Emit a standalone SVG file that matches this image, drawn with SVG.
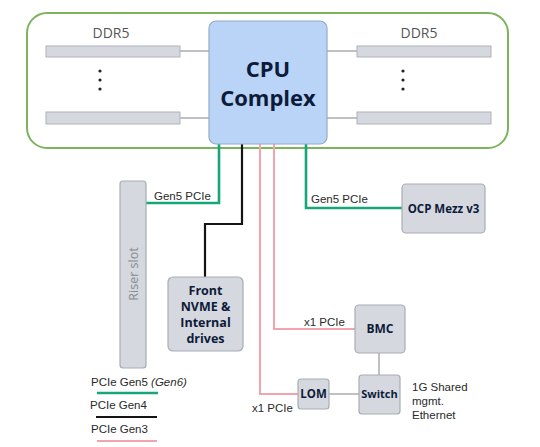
<svg xmlns="http://www.w3.org/2000/svg" width="540" height="447" viewBox="0 0 540 447">
<style>
.box{fill:#d5d8de;stroke:#a8acb3;stroke-width:1.2}
.bar{fill:#d5d8de;stroke:#aeb2b8;stroke-width:1}
.gl{stroke:#9a9ea5;stroke-width:1.3;fill:none}
.g5{stroke:#17a67a;stroke-width:2.6;fill:none}
.g4{stroke:#141414;stroke-width:2.2;fill:none}
.g3{stroke:#f2a3ab;stroke-width:2;fill:none}
.bt{font-family:"Open Sans","Liberation Sans",sans-serif;font-weight:bold;fill:#0d1b3a;text-anchor:middle}
.lt{font-family:"Liberation Sans",Arial,sans-serif;font-size:11.5px;fill:#2a2a2a}
.dt{font-family:"Open Sans","Liberation Sans",sans-serif;font-size:14px;fill:#555;text-anchor:middle}
</style>
<rect width="540" height="447" fill="#ffffff"/>
<g id="board">
<rect x="27" y="13" width="481" height="135" rx="20" fill="none" stroke="#7cb45e" stroke-width="2"/>
</g>
<g id="connectors">
<line class="gl" x1="180" y1="51" x2="209" y2="51"/>
<line class="gl" x1="180" y1="118" x2="209" y2="118"/>
<line class="gl" x1="327" y1="51" x2="357" y2="51"/>
<line class="gl" x1="327" y1="118" x2="357" y2="118"/>
<polyline class="g5" points="219,144 219,203 146,203"/>
<polyline class="g5" points="306,144 306,208 402,208"/>
<polyline class="g4" points="242,144 242,224 205,224 205,277"/>
<polyline class="g3" points="260,144 260,394 298,394"/>
<polyline class="g3" points="274,144 274,329 355,329"/>
<line class="gl" x1="379" y1="353" x2="379" y2="375"/>
<line class="gl" x1="329" y1="394" x2="359" y2="394"/>
<text class="lt" x="154" y="200">Gen5 PCIe</text>
<text class="lt" x="311" y="203">Gen5 PCIe</text>
<text class="lt" x="304" y="326">x1 PCIe</text>
<text class="lt" x="252" y="412">x1 PCIe</text>
</g>
<g id="cpu">
<rect x="209" y="21" width="118" height="123" rx="7" fill="#b9d4f6" stroke="#95abc8" stroke-width="1.2"/>
<text class="bt" x="268" y="77" font-size="22">CPU</text>
<text class="bt" x="268" y="106" font-size="22">Complex</text>
</g>
<g id="ddr5-left">
<text class="dt" x="111" y="38">DDR5</text>
<rect class="bar" x="46" y="46" width="134" height="11"/>
<rect class="bar" x="46" y="112" width="134" height="12"/>
<circle cx="100" cy="71" r="1.6" fill="#222"/>
<circle cx="100" cy="80" r="1.6" fill="#222"/>
<circle cx="100" cy="89" r="1.6" fill="#222"/>
</g>
<g id="ddr5-right">
<text class="dt" x="419" y="38">DDR5</text>
<rect class="bar" x="357" y="46" width="134" height="11"/>
<rect class="bar" x="357" y="112" width="134" height="12"/>
<circle cx="403" cy="71" r="1.6" fill="#222"/>
<circle cx="403" cy="80" r="1.6" fill="#222"/>
<circle cx="403" cy="89" r="1.6" fill="#222"/>
</g>
<g id="riser">
<rect class="box" x="120" y="181" width="26" height="187" rx="3"/>
<text x="137.5" y="274" transform="rotate(-90 137.5 274)" text-anchor="middle" font-family="Open Sans,Liberation Sans,sans-serif" font-size="12.5" fill="#868a91">Riser slot</text>
</g>
<g id="front">
<rect class="box" x="168" y="277" width="75" height="74" rx="5"/>
<text class="bt" x="205.5" y="295" font-size="12.5">Front</text>
<text class="bt" x="205.5" y="311" font-size="12.5">NVME &amp;</text>
<text class="bt" x="205.5" y="327" font-size="12.5">Internal</text>
<text class="bt" x="205.5" y="343" font-size="12.5">drives</text>
</g>
<g id="ocp">
<rect class="box" x="402" y="184" width="83" height="49" rx="4"/>
<text class="bt" x="443.5" y="213" font-size="11.5">OCP Mezz v3</text>
</g>
<g id="bmc">
<rect class="box" x="355" y="305" width="50" height="48" rx="4"/>
<text class="bt" x="380" y="333" font-size="12">BMC</text>
</g>
<g id="switch">
<rect class="box" x="359" y="375" width="41" height="39" rx="3"/>
<text class="bt" x="379.5" y="398" font-size="11">Switch</text>
</g>
<g id="lom">
<rect class="box" x="298" y="379" width="31" height="30" rx="3"/>
<text class="bt" x="313.5" y="398" font-size="11.5">LOM</text>
</g>
<g id="eth-label">
<text class="lt" x="412" y="391">1G Shared</text>
<text class="lt" x="412" y="405">mgmt.</text>
<text class="lt" x="412" y="419">Ethernet</text>
</g>
<g id="legend">
<text class="lt" x="91" y="386" font-size="12">PCIe Gen5 <tspan font-style="italic">(Gen6)</tspan></text>
<line class="g5" x1="97" y1="393" x2="158" y2="393"/>
<text class="lt" x="90" y="409" font-size="12">PCIe Gen4</text>
<line class="g4" x1="96" y1="417" x2="157" y2="417"/>
<text class="lt" x="91" y="433" font-size="12">PCIe Gen3</text>
<line class="g3" x1="97" y1="441" x2="157" y2="441"/>
</g>
</svg>
